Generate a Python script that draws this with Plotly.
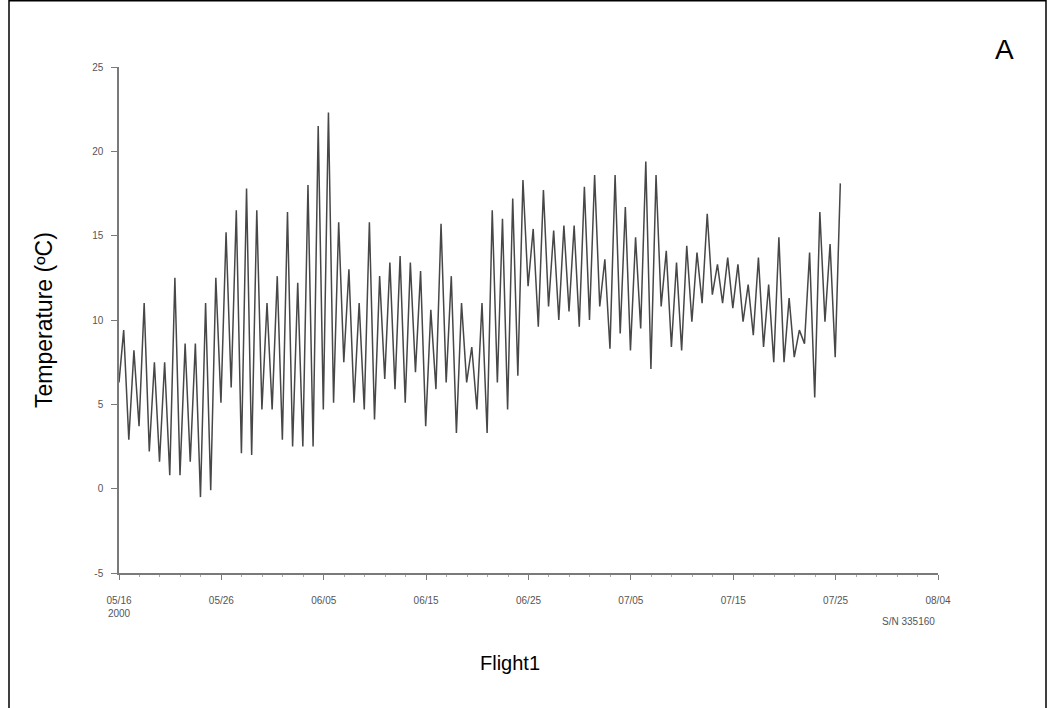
import pandas as pd
import plotly.graph_objects as go

# ---- data ----
start_date = "2000-05-16"
start_value = 6.3
daily_max = [9.4, 8.2, 11.0, 7.5, 7.5, 12.5, 8.6, 8.6, 11.0, 12.5,
             15.2, 16.5, 17.8, 16.5, 11.0, 12.6, 16.4, 12.2, 18.0, 21.5,
             22.3, 15.8, 13.0, 11.0, 15.8, 12.6, 13.4, 13.8, 13.4, 12.9,
             10.6, 15.7, 12.6, 11.0, 8.4, 11.0, 16.5, 16.0, 17.2, 18.3,
             15.4, 17.7, 15.3, 15.6, 15.6, 17.9, 18.6, 13.6, 18.6, 16.7,
             14.9, 19.4, 18.6, 14.1, 13.4, 14.4, 14.0, 16.3, 13.3, 13.7,
             13.3, 12.1, 13.7, 12.1, 14.9, 11.3, 9.4, 14.0, 16.4, 14.5,
             18.1]
daily_min = [2.9, 3.7, 2.2, 1.6, 0.8, 0.8, 1.6, -0.5, -0.1, 5.1,
             6.0, 2.1, 2.0, 4.7, 4.7, 2.9, 2.5, 2.5, 2.5, 4.7,
             5.1, 7.5, 5.1, 4.7, 4.1, 6.5, 5.9, 5.1, 6.9, 3.7,
             5.9, 6.3, 3.3, 6.3, 4.7, 3.3, 6.3, 4.7, 6.7, 12.0,
             9.6, 10.8, 10.0, 10.5, 9.6, 10.0, 10.8, 8.3, 9.2, 8.2,
             9.5, 7.1, 10.8, 8.4, 8.2, 9.9, 11.0, 11.5, 11.0, 10.7,
             9.9, 9.1, 8.4, 7.5, 7.5, 7.8, 8.6, 5.4, 9.9, 7.8]
x_tick_dates = ["2000-05-16", "2000-05-26", "2000-06-05", "2000-06-15", "2000-06-25",
                "2000-07-05", "2000-07-15", "2000-07-25", "2000-08-04"]
x_tick_labels = ["05/16<br>2000", "05/26", "06/05", "06/15", "06/25",
                 "07/05", "07/15", "07/25", "08/04"]
y_ticks = [-5, 0, 5, 10, 15, 20, 25]
y_tick_labels = ["-5", "0", "5", "10", "15", "20", "25"]

# ---- build the zig-zag series (max around midday, min near midnight) ----
t0 = pd.Timestamp(start_date)
times = [t0]
temps = [start_value]
for k, mx in enumerate(daily_max):
    times.append(t0 + pd.Timedelta(days=k, hours=11))
    temps.append(mx)
    if k < len(daily_min):
        times.append(t0 + pd.Timedelta(days=k, hours=23))
        temps.append(daily_min[k])

fig = go.Figure()
fig.add_trace(go.Scatter(x=times, y=temps, mode="lines",
                         line=dict(color="#474747", width=1.5),
                         hoverinfo="skip", showlegend=False))

L, R, T, B = 119, 116, 67, 135
W, H = 1054, 708
pw, ph = W - L - R, H - T - B

def px(xp):
    return (xp - L) / pw

def py(yp):
    return (H - B - yp) / ph

axis_col = "#7a7a7a"
tick_font = dict(family="Liberation Sans, Arial, sans-serif", size=10, color="#555555")

fig.update_layout(
    width=W, height=H,
    margin=dict(l=L, r=R, t=T, b=B),
    paper_bgcolor="white", plot_bgcolor="white",
    xaxis=dict(range=[x_tick_dates[0], x_tick_dates[-1]], tickmode="array",
               tickvals=x_tick_dates, ticktext=x_tick_labels,
               ticks="outside", ticklen=5, tickcolor=axis_col, tickwidth=1,
               showline=True, linecolor=axis_col, linewidth=1.5,
               showgrid=False, zeroline=False, tickfont=tick_font,
               ticklabelstandoff=12,
               minor=dict(dtick=2 * 86400000, ticks="outside", ticklen=2,
                          tickcolor="#aaaaaa", showgrid=False)),
    yaxis=dict(range=[-5, 25], tickmode="array", tickvals=y_ticks, ticktext=y_tick_labels,
               ticks="outside", ticklen=6, tickcolor=axis_col, tickwidth=1,
               showline=True, linecolor=axis_col, linewidth=1.5,
               showgrid=False, zeroline=False, tickfont=tick_font,
               ticklabelstandoff=6),
    font=dict(family="Liberation Sans, Arial, sans-serif"),
)

title_font = dict(family="Liberation Sans, Arial, sans-serif", size=20, color="black")
fig.add_annotation(text="Temperature (ºC)", x=px(44), y=py(320), xref="paper", yref="paper",
                   showarrow=False, textangle=-90,
                   font=dict(family="Liberation Sans, Arial, sans-serif", size=23, color="black"),
                   xanchor="center", yanchor="middle")
fig.add_annotation(text="Flight1", x=px(510), y=py(663), xref="paper", yref="paper",
                   showarrow=False, font=title_font, xanchor="center", yanchor="middle")
fig.add_annotation(text="A", x=px(1004), y=py(50), xref="paper", yref="paper",
                   showarrow=False, font=dict(family="Liberation Sans, Arial, sans-serif",
                                              size=28, color="black"),
                   xanchor="center", yanchor="middle")
fig.add_annotation(text="S/N 335160", x=px(937), y=py(621), xref="paper", yref="paper",
                   showarrow=False, font=tick_font, xanchor="right", yanchor="middle")

# outer frame (left, top, right edges)
fig.add_shape(type="rect", xref="paper", yref="paper",
              x0=px(9), x1=px(1046), y0=py(730), y1=py(0.8),
              line=dict(color="black", width=1.5), fillcolor="rgba(0,0,0,0)", layer="above")

fig.write_html("out.html")
